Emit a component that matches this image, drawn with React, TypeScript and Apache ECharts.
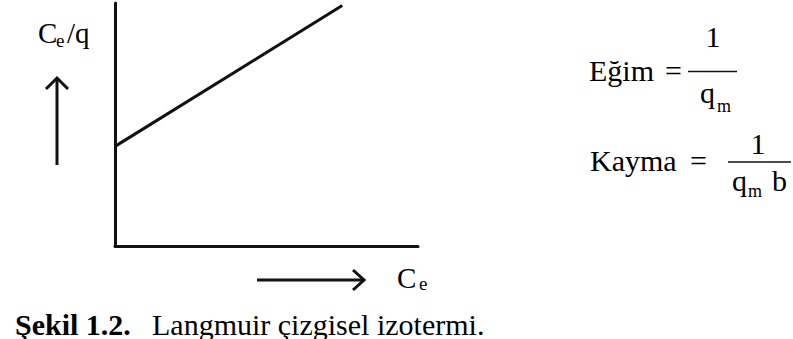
import React, { useEffect, useRef } from "react";
import * as echarts from "echarts";

// Linearised Langmuir isotherm: Ce/q against Ce (arbitrary units)
const ceValues = [0, 75];
const ceOverQ = [41, 99];

const SERIF = "'Liberation Serif', 'Times New Roman', serif";
const INK = "#111";

const txt = (
  text: string,
  x: number,
  y: number,
  size: number,
  opts: { bold?: boolean; align?: string } = {}
) => ({
  type: "text",
  x,
  y,
  silent: true,
  style: {
    text,
    fill: "#000",
    fontFamily: SERIF,
    fontSize: size,
    fontWeight: opts.bold ? "bold" : "normal",
    align: opts.align || "left",
    verticalAlign: "middle",
  },
});

const seg = (x1: number, y1: number, x2: number, y2: number, w: number) => ({
  type: "line",
  silent: true,
  shape: { x1, y1, x2, y2 },
  style: { stroke: INK, lineWidth: w },
});

const head = (pts: number[][]) => ({
  type: "polyline",
  silent: true,
  shape: { points: pts },
  style: { stroke: INK, lineWidth: 3, fill: null },
});

export default function App() {
  const ref = useRef<HTMLDivElement>(null);

  useEffect(() => {
    if (!ref.current) return;
    const chart = echarts.init(ref.current, null, { renderer: "svg" });
    const axisCommon = {
      type: "value",
      min: 0,
      max: 100,
      axisLine: { show: true, lineStyle: { color: INK, width: 3 } },
      axisTick: { show: false },
      axisLabel: { show: false },
      splitLine: { show: false },
    };
    chart.setOption({
      animation: false,
      backgroundColor: "#fff",
      grid: { left: 115, right: 375, top: 3, bottom: 93 },
      xAxis: { ...axisCommon },
      yAxis: { ...axisCommon },
      series: [
        {
          type: "line",
          data: ceValues.map((c, i) => [c, ceOverQ[i]]),
          symbol: "none",
          lineStyle: { color: INK, width: 3 },
        },
      ],
      graphic: [
        // y-axis label and arrow
        txt("C", 38, 33, 29),
        txt("e", 56, 40.5, 19),
        txt("/q", 67, 33, 29),
        seg(57, 165, 57, 79, 3),
        head([
          [46, 89],
          [57, 78],
          [68, 89],
        ]),
        // x-axis label and arrow
        seg(257, 280, 363, 280, 3),
        head([
          [353, 270],
          [364, 280],
          [353, 290],
        ]),
        txt("C", 397, 278, 29),
        txt("e", 419, 283.5, 19),
        // slope
        txt("Eğim", 589, 70, 30),
        txt("=", 665, 70, 30),
        txt("1", 713, 36, 30, { align: "center" }),
        seg(688, 71.5, 737, 71.5, 1.3),
        txt("q", 700, 92, 30),
        txt("m", 717, 106, 18),
        // intercept
        txt("Kayma", 590, 160, 30),
        txt("=", 690, 160, 30),
        txt("1", 758, 143, 30, { align: "center" }),
        seg(728, 162, 791, 162, 1.3),
        txt("q", 732, 180, 30),
        txt("m", 748, 191, 18),
        txt("b", 772, 180, 30),
        // caption
        txt("Şekil 1.2.", 15, 324, 30, { bold: true }),
        txt("Langmuir çizgisel izotermi.", 152, 324, 30),
      ],
    });
    return () => chart.dispose();
  }, []);

  return (
    <div
      ref={ref}
      style={{ position: "absolute", left: 0, top: 0, width: 793, height: 339 }}
    />
  );
}
